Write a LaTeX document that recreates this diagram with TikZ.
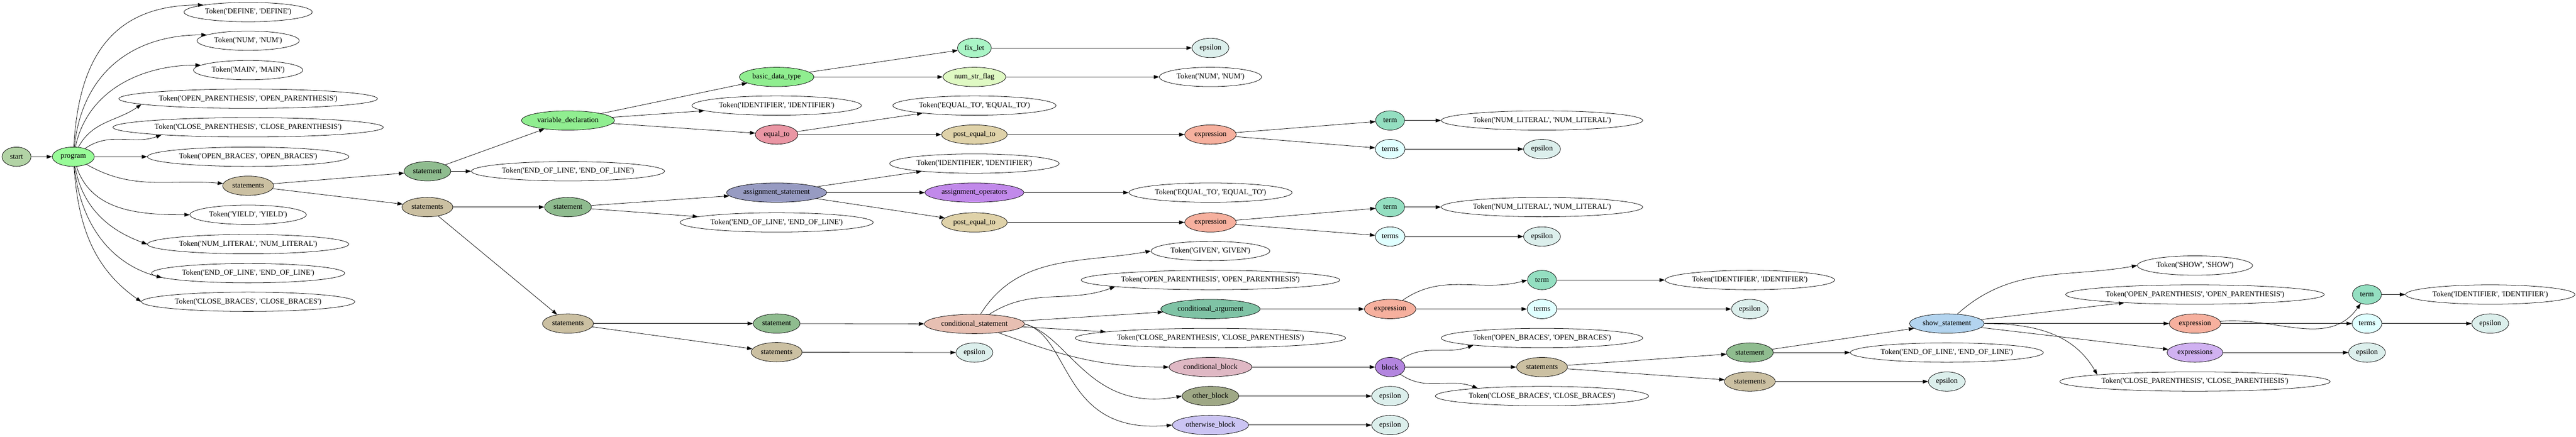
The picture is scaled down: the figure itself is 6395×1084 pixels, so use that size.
\documentclass[tikz,border=0pt]{standalone}
\usepackage{fontspec}
\setmainfont{Liberation Serif}
\usetikzlibrary{shapes.geometric,arrows.meta}

\definecolor{cstart}{HTML}{B2D3A5}
\definecolor{cprog}{HTML}{98FB98}
\definecolor{cstmts}{HTML}{CBC0A2}
\definecolor{cstmt}{HTML}{8FBC8F}
\definecolor{cvdecl}{HTML}{90EE90}
\definecolor{ceqto}{HTML}{EA96A4}
\definecolor{cassign}{HTML}{979BC2}
\definecolor{cfixlet}{HTML}{AAF5C6}
\definecolor{cnumstr}{HTML}{DFF9C3}
\definecolor{cposteq}{HTML}{DFD2A9}
\definecolor{cexpr}{HTML}{F6B09E}
\definecolor{casop}{HTML}{C189EA}
\definecolor{ccond}{HTML}{E7BFB2}
\definecolor{ccarg}{HTML}{7FC3A5}
\definecolor{ccblock}{HTML}{DFB8C4}
\definecolor{coblock}{HTML}{9FA886}
\definecolor{cowblock}{HTML}{CBC4F3}
\definecolor{cblk}{HTML}{B385DF}
\definecolor{cterm}{HTML}{94DFC1}
\definecolor{cterms}{HTML}{E0FFFF}
\definecolor{ceps}{HTML}{DCEFEC}
\definecolor{cshow}{HTML}{B3D4EF}
\definecolor{cexprs}{HTML}{D0B1F1}

\newcommand{\tkn}[1]{Token(\textquotesingle#1\textquotesingle, \textquotesingle#1\textquotesingle)}

\begin{document}
\begin{tikzpicture}[x=0.75pt,y=-0.75pt]
    \tikzstyle{line} = [-{Triangle[length=10pt,width=7pt]}, line width=0.75pt]
    \tikzstyle{nt} = [ellipse, draw=black, line width=0.75pt, minimum width=54pt,
    minimum height=36pt, inner xsep=4pt, inner ysep=1pt, font=\fontsize{14}{16}\selectfont]
    \tikzstyle{tok} = [nt, fill=white]
    \tikzstyle{startn} = [nt, fill=cstart]
    \tikzstyle{prog} = [nt, fill=cprog]
    \tikzstyle{stmts} = [nt, fill=cstmts]
    \tikzstyle{stmt} = [nt, fill=cstmt]
    \tikzstyle{vdecl} = [nt, fill=cvdecl]
    \tikzstyle{eqtost} = [nt, fill=ceqto]
    \tikzstyle{assign} = [nt, fill=cassign]
    \tikzstyle{fixl} = [nt, fill=cfixlet]
    \tikzstyle{nsf} = [nt, fill=cnumstr]
    \tikzstyle{posteq} = [nt, fill=cposteq]
    \tikzstyle{exprn} = [nt, fill=cexpr]
    \tikzstyle{asops} = [nt, fill=casop]
    \tikzstyle{condst} = [nt, fill=ccond]
    \tikzstyle{cargst} = [nt, fill=ccarg]
    \tikzstyle{cblk} = [nt, fill=ccblock]
    \tikzstyle{oblk} = [nt, fill=coblock]
    \tikzstyle{owblk} = [nt, fill=cowblock]
    \tikzstyle{blk} = [nt, fill=cblk]
    \tikzstyle{termn} = [nt, fill=cterm]
    \tikzstyle{termsn} = [nt, fill=cterms]
    \tikzstyle{epsn} = [nt, fill=ceps]
    \tikzstyle{showst} = [nt, fill=cshow]
    \tikzstyle{exprsst} = [nt, fill=cexprs]

    \useasboundingbox (0,0) rectangle (6395,1084);

    % start, program and its children
    \node(start) [startn] at (41,389) {start};
    \node(program) [prog] at (182,389) {program};
    \node(tdefine) [tok] at (616,30) {\tkn{DEFINE}};
    \node(tnum) [tok] at (616,101) {\tkn{NUM}};
    \node(tmain) [tok] at (616,174) {\tkn{MAIN}};
    \node(topenp) [tok] at (616,245) {\tkn{OPEN\_PARENTHESIS}};
    \node(tclosep) [tok] at (616,316) {\tkn{CLOSE\_PARENTHESIS}};
    \node(topenb) [tok] at (616,389) {\tkn{OPEN\_BRACES}};
    \node(stmtsA) [stmts] at (616,461) {statements};
    \node(tyield) [tok] at (616,533) {\tkn{YIELD}};
    \node(tnumlit) [tok] at (616,606) {\tkn{NUM\_LITERAL}};
    \node(teol) [tok] at (616,678) {\tkn{END\_OF\_LINE}};
    \node(tcloseb) [tok] at (616,749) {\tkn{CLOSE\_BRACES}};

    \node(stmtA) [stmt] at (1061,425) {statement};
    \node(stmtsB) [stmts] at (1061,514) {statements};

    \node(vardecl) [vdecl] at (1410,299) {variable\_declaration};
    \node(teolA) [tok] at (1410,425) {\tkn{END\_OF\_LINE}};
    \node(stmtB) [stmt] at (1410,514) {statement};
    \node(stmtsC) [stmts] at (1410,803) {statements};

    \node(dtype) [vdecl] at (1928,191) {basic\_data\_type};
    \node(tidA) [tok] at (1928,262) {\tkn{IDENTIFIER}};
    \node(eqto) [eqtost] at (1928,334) {equal\_to};
    \node(asst) [assign] at (1928,478) {assignment\_statement};
    \node(teolB) [tok] at (1928,552) {\tkn{END\_OF\_LINE}};
    \node(stmtC) [stmt] at (1928,803) {statement};
    \node(stmtsD) [stmts] at (1928,874) {statements};

    \node(fixlet) [fixl] at (2419,119) {fix\_let};
    \node(numstr) [nsf] at (2419,191) {num\_str\_flag};
    \node(teqA) [tok] at (2419,262) {\tkn{EQUAL\_TO}};
    \node(posteqA) [posteq] at (2419,334) {post\_equal\_to};
    \node(tidB) [tok] at (2419,406) {\tkn{IDENTIFIER}};
    \node(asop) [asops] at (2419,478) {assignment\_operators};
    \node(posteqB) [posteq] at (2419,552) {post\_equal\_to};
    \node(cond) [condst] at (2419,804) {conditional\_statement};
    \node(epsA) [epsn] at (2419,875) {epsilon};

    \node(epsB) [epsn] at (3005,119) {epsilon};
    \node(tnumB) [tok] at (3005,191) {\tkn{NUM}};
    \node(exprA) [exprn] at (3005,334) {expression};
    \node(teqB) [tok] at (3005,478) {\tkn{EQUAL\_TO}};
    \node(exprB) [exprn] at (3005,552) {expression};
    \node(tgiven) [tok] at (3005,623) {\tkn{GIVEN}};
    \node(topenpB) [tok] at (3005,695) {\tkn{OPEN\_PARENTHESIS}};
    \node(carg) [cargst] at (3005,767) {conditional\_argument};
    \node(tclosepB) [tok] at (3005,839) {\tkn{CLOSE\_PARENTHESIS}};
    \node(cblock) [cblk] at (3005,911) {conditional\_block};
    \node(oblock) [oblk] at (3005,983) {other\_block};
    \node(owblock) [owblk] at (3005,1055) {otherwise\_block};

    \node(termA) [termn] at (3451,299) {term};
    \node(termsA) [termsn] at (3451,370) {terms};
    \node(termB) [termn] at (3451,514) {term};
    \node(termsB) [termsn] at (3451,587) {terms};
    \node(exprC) [exprn] at (3451,767) {expression};
    \node(block) [blk] at (3451,911) {block};
    \node(epsC) [epsn] at (3451,983) {epsilon};
    \node(epsD) [epsn] at (3451,1055) {epsilon};

    \node(tnumlitA) [tok] at (3828,299) {\tkn{NUM\_LITERAL}};
    \node(epsE) [epsn] at (3828,370) {epsilon};
    \node(tnumlitB) [tok] at (3828,514) {\tkn{NUM\_LITERAL}};
    \node(epsF) [epsn] at (3828,587) {epsilon};
    \node(termC) [termn] at (3828,695) {term};
    \node(termsC) [termsn] at (3828,767) {terms};
    \node(topenbB) [tok] at (3828,839) {\tkn{OPEN\_BRACES}};
    \node(stmtsE) [stmts] at (3828,911) {statements};
    \node(tclosebB) [tok] at (3828,983) {\tkn{CLOSE\_BRACES}};

    \node(tidC) [tok] at (4344,695) {\tkn{IDENTIFIER}};
    \node(epsG) [epsn] at (4344,767) {epsilon};
    \node(stmtD) [stmt] at (4344,875) {statement};
    \node(stmtsF) [stmts] at (4344,947) {statements};

    \node(show) [showst] at (4833,803) {show\_statement};
    \node(teolC) [tok] at (4833,875) {\tkn{END\_OF\_LINE}};
    \node(epsH) [epsn] at (4833,947) {epsilon};

    \node(tshow) [tok] at (5449,659) {\tkn{SHOW}};
    \node(topenpC) [tok] at (5449,731) {\tkn{OPEN\_PARENTHESIS}};
    \node(exprD) [exprn] at (5449,803) {expression};
    \node(exprs) [exprsst] at (5449,875) {expressions};
    \node(tclosepC) [tok] at (5449,947) {\tkn{CLOSE\_PARENTHESIS}};

    \node(termD) [termn] at (5876,731) {term};
    \node(termsD) [termsn] at (5876,803) {terms};
    \node(epsI) [epsn] at (5876,875) {epsilon};

    \node(tidD) [tok] at (6182,731) {\tkn{IDENTIFIER}};
    \node(epsJ) [epsn] at (6182,803) {epsilon};

    % edges
    \draw[line] (start) -- (program);
    \draw[line] (program) to[out=87,in=180,looseness=1.2] (tdefine.171);
    \draw[line] (program) to[out=84,in=180,looseness=1.1] (tnum.172);
    \draw[line] (program) to[out=78,in=180] (tmain.174);
    \draw[line] (program) to[out=62,in=215] (topenp.183);
    \draw[line] (program) to[out=35,in=200] (tclosep.185);
    \draw[line] (program) -- (topenb);
    \draw[line] (program) to[out=-30,in=175] (stmtsA);
    \draw[line] (program) to[out=-72,in=180] (tyield);
    \draw[line] (program) to[out=-80,in=160] (tnumlit.west);
    \draw[line] (program) to[out=-84,in=165] (teol.183);
    \draw[line] (program) to[out=-86,in=145] (tcloseb.west);

    \draw[line] (stmtsA) -- (stmtA);
    \draw[line] (stmtsA) -- (stmtsB);
    \draw[line] (stmtA) -- (vardecl);
    \draw[line] (stmtA) -- (teolA);
    \draw[line] (stmtsB) -- (stmtB);
    \draw[line] (stmtsB) -- (stmtsC);

    \draw[line] (vardecl) -- (dtype);
    \draw[line] (vardecl) -- (tidA);
    \draw[line] (vardecl) -- (eqto);
    \draw[line] (stmtB) -- (asst);
    \draw[line] (stmtB) -- (teolB);
    \draw[line] (stmtsC) -- (stmtC);
    \draw[line] (stmtsC) -- (stmtsD);

    \draw[line] (dtype) -- (fixlet);
    \draw[line] (dtype) -- (numstr);
    \draw[line] (eqto) -- (teqA);
    \draw[line] (eqto) -- (posteqA);
    \draw[line] (asst) -- (tidB);
    \draw[line] (asst) -- (asop);
    \draw[line] (asst) -- (posteqB);
    \draw[line] (stmtC) -- (cond);
    \draw[line] (stmtsD) -- (epsA);

    \draw[line] (fixlet) -- (epsB);
    \draw[line] (numstr) -- (tnumB);
    \draw[line] (posteqA) -- (exprA);
    \draw[line] (asop) -- (teqB);
    \draw[line] (posteqB) -- (exprB);
    \draw[line] (cond) to[out=58,in=190] (tgiven.west);
    \draw[line] (cond) to[out=33,in=200] (topenpB.184);
    \draw[line] (cond) -- (carg);
    \draw[line] (cond) -- (tclosepB);
    \draw[line] (cond) to[out=-20,in=180] (cblock.west);
    \draw[line] (cond.east) to[out=-15,in=190,out looseness=0.7,in looseness=1.4] (oblock.west);
    \draw[line] (cond.east) to[out=-15,in=185,out looseness=0.7,in looseness=1.6] (owblock.west);

    \draw[line] (exprA) -- (termA);
    \draw[line] (exprA) -- (termsA);
    \draw[line] (exprB) -- (termB);
    \draw[line] (exprB) -- (termsB);
    \draw[line] (carg) -- (exprC);
    \draw[line] (cblock) -- (block);
    \draw[line] (oblock) -- (epsC);
    \draw[line] (owblock) -- (epsD);

    \draw[line] (termA) -- (tnumlitA);
    \draw[line] (termsA) -- (epsE);
    \draw[line] (termB) -- (tnumlitB);
    \draw[line] (termsB) -- (epsF);
    \draw[line] (exprC) to[out=35,in=195] (termC.west);
    \draw[line] (exprC) -- (termsC);
    \draw[line] (block) to[out=35,in=200] (topenbB.186);
    \draw[line] (block) -- (stmtsE);
    \draw[line] (block) to[out=-35,in=160] (tclosebB.173);

    \draw[line] (termC) -- (tidC);
    \draw[line] (termsC) -- (epsG);
    \draw[line] (stmtsE) -- (stmtD);
    \draw[line] (stmtsE) -- (stmtsF);

    \draw[line] (stmtD) -- (show);
    \draw[line] (stmtD) -- (teolC);
    \draw[line] (stmtsF) -- (epsH);

    \draw[line] (show) to[out=42,in=190] (tshow.west);
    \draw[line] (show) -- (topenpC);
    \draw[line] (show) -- (exprD);
    \draw[line] (show) -- (exprs);
    \draw[line] (show.east) to[out=0,in=120] (tclosepC.176);

    \draw[line] (exprD) to[out=5,in=235] (termD);
    \draw[line] (exprD) -- (termsD);
    \draw[line] (exprs) -- (epsI);

    \draw[line] (termD) -- (tidD);
    \draw[line] (termsD) -- (epsJ);
\end{tikzpicture}
\end{document}
